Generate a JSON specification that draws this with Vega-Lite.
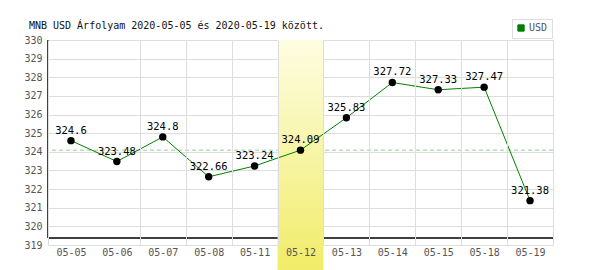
{
  "$schema": "https://vega.github.io/schema/vega-lite/v6.json",
  "width": 505,
  "height": 205,
  "autosize": {"type": "none"},
  "padding": {"left": 48, "top": 40, "right": 47, "bottom": 25},
  "background": "white",
  "title": {
    "text": "MNB USD Árfolyam 2020-05-05 és 2020-05-19 között.",
    "anchor": "start",
    "font": "DejaVu Sans Mono",
    "fontSize": 10,
    "fontWeight": "normal",
    "color": "#111",
    "dx": 5,
    "offset": -12
  },
  "config": {
    "view": {"stroke": null},
    "axis": {"labelFont": "DejaVu Sans Mono", "labelFontSize": 10, "labelColor": "#555", "gridColor": "#dddddd", "gridWidth": 1, "labelOverlap": false},
    "axisY": {"labelOverlap": false, "title": null, "domain": false, "ticks": false, "tickSize": 0, "labelPadding": 6, "grid": true}
  },
  "data": {
    "values": [
      {"date": "05-05", "rate": 324.6, "currency": "USD"},
      {"date": "05-06", "rate": 323.48, "currency": "USD"},
      {"date": "05-07", "rate": 324.8, "currency": "USD"},
      {"date": "05-08", "rate": 322.66, "currency": "USD"},
      {"date": "05-11", "rate": 323.24, "currency": "USD"},
      {"date": "05-12", "rate": 324.09, "currency": "USD"},
      {"date": "05-13", "rate": 325.83, "currency": "USD"},
      {"date": "05-14", "rate": 327.72, "currency": "USD"},
      {"date": "05-15", "rate": 327.33, "currency": "USD"},
      {"date": "05-18", "rate": 327.47, "currency": "USD"},
      {"date": "05-19", "rate": 321.38, "currency": "USD"}
    ]
  },
  "layer": [
    {
      "mark": {"type": "rule", "color": "#8fd08f", "strokeDash": [4, 3], "strokeWidth": 1},
      "transform": [{"filter": "datum.date == '05-12'"}],
      "encoding": {
        "y": {"field": "rate", "type": "quantitative",
          "scale": {"domain": [319, 330], "nice": false, "zero": false},
          "axis": {"title": null, "labelOverlap": false, "values": [319,320,321,322,323,324,325,326,327,328,329,330]}}
      }
    },
    {
      "data": {"values": [{"edge": 319.37}]},
      "mark": {"type": "rule", "color": "#000", "strokeWidth": 1.5},
      "encoding": {
        "y": {"field": "edge", "type": "quantitative", "axis": {"title": null, "labelOverlap": false, "values": [319,320,321,322,323,324,325,326,327,328,329,330]}}
      }
    },
    {
      "data": {"values": [{"date": "05-05", "top": 330, "edge": 319.37}]},
      "mark": {"type": "rule", "color": "#000", "strokeWidth": 1.5},
      "encoding": {
        "x": {"field": "date", "type": "ordinal", "bandPosition": 0},
        "y": {"field": "top", "type": "quantitative", "axis": {"title": null, "labelOverlap": false, "values": [319,320,321,322,323,324,325,326,327,328,329,330]}},
        "y2": {"field": "edge"}
      }
    },
    {
      "mark": {
        "type": "rect",
        "clip": false,
        "fill": {
          "gradient": "linear", "x1": 0, "y1": 0, "x2": 0, "y2": 1,
          "stops": [{"offset": 0, "color": "#fdfde2"}, {"offset": 1, "color": "#f1ec68"}]
        }
      },
      "transform": [{"filter": "datum.date == '05-12'"}],
      "encoding": {
        "x": {"field": "date", "type": "ordinal"},
        "y": {"datum": 330, "type": "quantitative", "axis": {"title": null, "labelOverlap": false, "values": [319,320,321,322,323,324,325,326,327,328,329,330]}},
        "y2": {"datum": 317.6}
      }
    },
    {
      "mark": {"type": "line", "strokeWidth": 1},
      "encoding": {
        "x": {"field": "date", "type": "ordinal",
          "scale": {"paddingInner": 0, "paddingOuter": 0},
          "axis": {
          "title": null, "orient": "bottom", "grid": true, "tickBand": "extent", "domain": false, "ticks": false, "tickSize": 0,
          "labelPadding": 2, "labelAngle": 0, "labelAlign": "center", "labelBaseline": "top", "zindex": 1,
          "gridColor": {"condition": {"test": "datum.value === '05-05'", "value": "rgba(0,0,0,0)"}, "value": "#dddddd"}
        }},
        "y": {"field": "rate", "type": "quantitative", "axis": {"title": null, "labelOverlap": false, "values": [319,320,321,322,323,324,325,326,327,328,329,330]}},
        "color": {
          "field": "currency", "type": "nominal",
          "scale": {"domain": ["USD"], "range": ["#008000"]},
          "legend": {
            "title": null, "orient": "none", "legendX": 464, "legendY": -21,
            "strokeColor": "#dddddd", "padding": 4, "fillColor": "white",
            "labelFont": "DejaVu Sans Mono", "labelFontSize": 10, "labelColor": "#555",
            "symbolType": "square", "symbolSize": 40, "labelOffset": 3,
            "encode": {"symbols": {"update": {"fill": {"value": "#008000"}, "stroke": {"value": "#555"}, "strokeWidth": {"value": 1}}}}
          }
        }
      }
    },
    {
      "mark": {"type": "circle", "color": "#000", "size": 55, "opacity": 1},
      "encoding": {
        "x": {"field": "date", "type": "ordinal"},
        "y": {"field": "rate", "type": "quantitative", "axis": {"title": null, "labelOverlap": false, "values": [319,320,321,322,323,324,325,326,327,328,329,330]}}
      }
    },
    {
      "mark": {"type": "text", "font": "DejaVu Sans Mono", "fontSize": 10.5, "color": "#000", "baseline": "alphabetic", "dy": -7},
      "encoding": {
        "x": {"field": "date", "type": "ordinal"},
        "y": {"field": "rate", "type": "quantitative", "axis": {"title": null, "labelOverlap": false, "values": [319,320,321,322,323,324,325,326,327,328,329,330]}},
        "text": {"field": "rate", "type": "quantitative"}
      }
    }
  ]
}
